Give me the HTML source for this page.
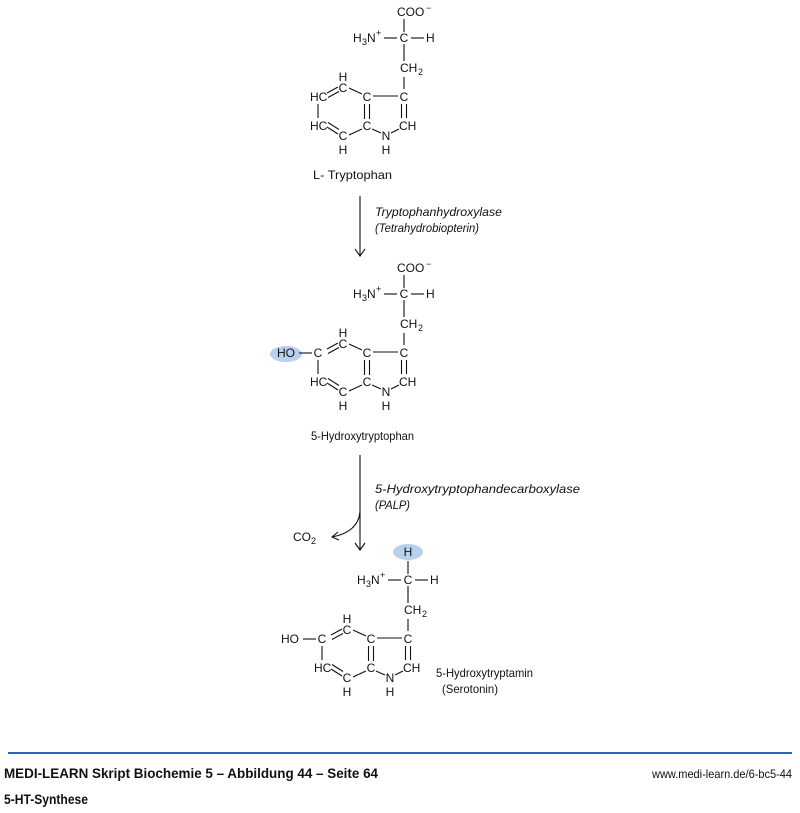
<!DOCTYPE html>
<html><head><meta charset="utf-8"><style>
body{margin:0;background:#fff;width:800px;height:808px;overflow:hidden}
svg text{font-family:"Liberation Sans",sans-serif;font-size:12px;fill:#111;stroke:none}
line,path{stroke:#111;stroke-width:1.1;fill:none}
</style></head><body>
<svg width="800" height="808" xmlns="http://www.w3.org/2000/svg">
<defs>
<g id="core">
<text x="343" y="81" text-anchor="middle">H</text>
<text x="343" y="92" text-anchor="middle">C</text>
<text x="367" y="101" text-anchor="middle">C</text>
<text x="404" y="101" text-anchor="middle">C</text>
<text x="310" y="130">HC</text>
<text x="343" y="140" text-anchor="middle">C</text>
<text x="343" y="154" text-anchor="middle">H</text>
<text x="367" y="130" text-anchor="middle">C</text>
<text x="386" y="140" text-anchor="middle">N</text>
<text x="386" y="154" text-anchor="middle">H</text>
<text x="399" y="130">CH</text>
<text x="400" y="72">CH</text><text x="418" y="75" style="font-size:9px">2</text>
<line x1="327" y1="93" x2="338" y2="87"/><line x1="328" y1="97.5" x2="339" y2="91.5"/>
<line x1="349" y1="88" x2="362" y2="94"/>
<line x1="318" y1="104" x2="318" y2="118"/>
<line x1="327" y1="127" x2="338" y2="134"/><line x1="328" y1="122.5" x2="339" y2="129.5"/>
<line x1="349" y1="135" x2="362" y2="129"/>
<line x1="364.5" y1="104" x2="364.5" y2="119"/><line x1="369.5" y1="104" x2="369.5" y2="119"/>
<line x1="372" y1="129" x2="381" y2="133"/>
<line x1="391" y1="133" x2="399" y2="129"/>
<line x1="401.5" y1="104" x2="401.5" y2="118"/><line x1="406.5" y1="104" x2="406.5" y2="118"/>
<line x1="373" y1="96" x2="398" y2="96"/>
<line x1="404" y1="77" x2="404" y2="89"/>
<line x1="404" y1="44" x2="404" y2="61"/>
<line x1="384" y1="38" x2="397" y2="38"/>
<line x1="411" y1="38" x2="424" y2="38"/>
<text x="353" y="42">H</text><text x="362" y="45" style="font-size:9px">3</text><text x="367" y="42">N</text><text x="376" y="36" style="font-size:9px">+</text>
<text x="404" y="42" text-anchor="middle">C</text>
<text x="426" y="42">H</text>
</g>
</defs>

<g>
<use href="#core"/>
<text x="310" y="101">HC</text>
<text x="397" y="16">COO</text><text x="426" y="11" style="font-size:9px">−</text>
<line x1="404" y1="19" x2="404" y2="32"/>
</g>
<text x="313" y="179" textLength="79" lengthAdjust="spacingAndGlyphs">L- Tryptophan</text>
<line x1="360" y1="196" x2="360" y2="256"/><path d="M355 249 L360 256 L365 249"/>
<text x="375" y="216" font-style="italic" textLength="127" lengthAdjust="spacingAndGlyphs">Tryptophanhydroxylase</text>
<text x="375" y="232" font-style="italic" textLength="104" lengthAdjust="spacingAndGlyphs">(Tetrahydrobiopterin)</text>

<g transform="translate(0,256)">
<ellipse cx="286" cy="98" rx="16" ry="8" fill="#b8d0ec"/>
<use href="#core"/>
<text x="318" y="101" text-anchor="middle">C</text>
<text x="277" y="101">HO</text>
<line x1="299" y1="97" x2="312" y2="97"/>
<text x="397" y="16">COO</text><text x="426" y="11" style="font-size:9px">−</text>
<line x1="404" y1="19" x2="404" y2="32"/>
</g>
<text x="311" y="440" textLength="103" lengthAdjust="spacingAndGlyphs">5-Hydroxytryptophan</text>
<line x1="360" y1="455" x2="360" y2="550"/><path d="M355 543 L360 550 L365 543"/>
<path d="M360 512 Q358 532 332 537"/><path d="M338 532 L332 537 L339 540"/>
<text x="293" y="541">CO</text><text x="311" y="544" style="font-size:9px">2</text>
<text x="375" y="493" font-style="italic" textLength="205" lengthAdjust="spacingAndGlyphs">5-Hydroxytryptophandecarboxylase</text>
<text x="375" y="509" font-style="italic" textLength="35" lengthAdjust="spacingAndGlyphs">(PALP)</text>

<g transform="translate(4,542)">
<ellipse cx="404" cy="10" rx="15" ry="8" fill="#b8d0ec"/>
<text x="404" y="14" text-anchor="middle">H</text>
<line x1="404" y1="19" x2="404" y2="32"/>
<use href="#core"/>
<text x="318" y="101" text-anchor="middle">C</text>
<text x="277" y="101">HO</text>
<line x1="299" y1="97" x2="312" y2="97"/>
</g>
<text x="436" y="677" textLength="97" lengthAdjust="spacingAndGlyphs">5-Hydroxytryptamin</text>
<text x="442" y="693" textLength="56" lengthAdjust="spacingAndGlyphs">(Serotonin)</text>

<line x1="8" y1="753" x2="792" y2="753" style="stroke:#2a63b8;stroke-width:2"/>
<text x="4" y="778" style="font-size:14px;font-weight:bold" textLength="374" lengthAdjust="spacingAndGlyphs">MEDI-LEARN Skript Biochemie 5 – Abbildung 44 – Seite 64</text>
<text x="652" y="778" style="font-size:12px" textLength="140" lengthAdjust="spacingAndGlyphs">www.medi-learn.de/6-bc5-44</text>
<text x="4" y="804" style="font-size:14px;font-weight:bold" textLength="84" lengthAdjust="spacingAndGlyphs">5-HT-Synthese</text>
</svg>
</body></html>
